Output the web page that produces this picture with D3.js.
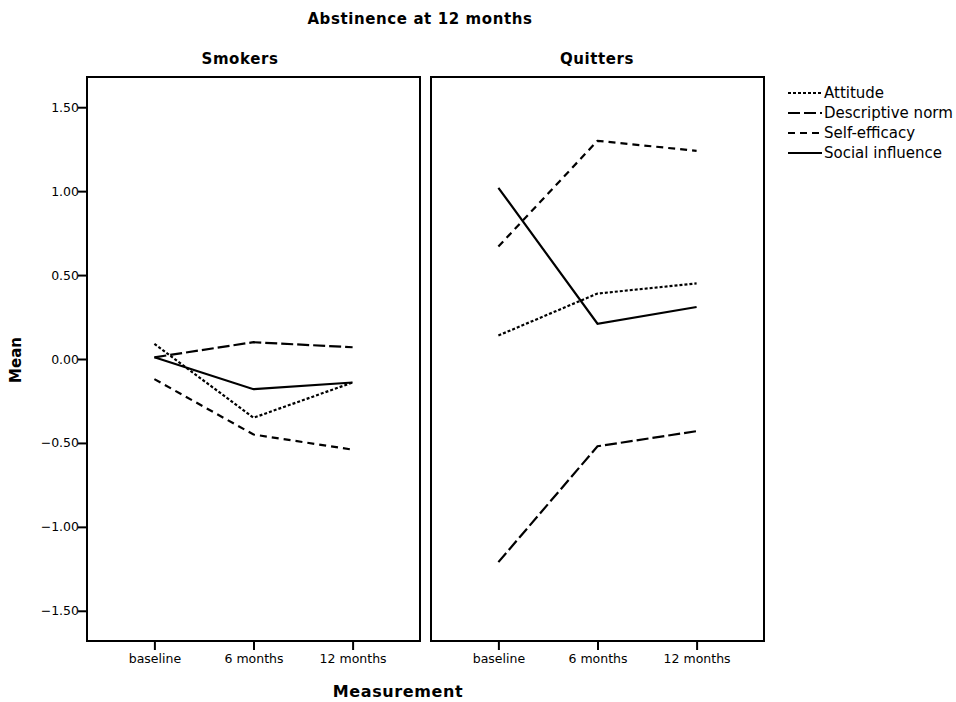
<!DOCTYPE html>
<html>
<head>
<meta charset="utf-8">
<script src="https://cdnjs.cloudflare.com/ajax/libs/d3/7.8.5/d3.min.js"></script>
<style>
  body { margin: 0; background: #fff; }
  text { font-family: "DejaVu Sans", sans-serif; fill: #000; }
</style>
</head>
<body>
<div id="chart"></div>
<script>
// data
var times = ["baseline", "6 months", "12 months"];
var groups = ["Smokers", "Quitters"];
var seriesNames = ["Attitude", "Descriptive norm", "Self-efficacy", "Social influence"];
var yTicks = [1.5, 1.0, 0.5, 0.0, -0.5, -1.0, -1.5];

var smokersAttitude = [0.09, -0.35, -0.14];
var smokersNorm = [0.01, 0.10, 0.07];
var smokersEfficacy = [-0.12, -0.45, -0.54];
var smokersInfluence = [0.01, -0.18, -0.14];

var quittersAttitude = [0.14, 0.39, 0.45];
var quittersNorm = [-1.21, -0.52, -0.43];
var quittersEfficacy = [0.67, 1.30, 1.24];
var quittersInfluence = [1.02, 0.21, 0.31];

var dashes = ["3,2", "12,4", "7,5", null];

var panels = [
    { name: groups[0], left: 87, right: 420, titleX: 240, series: [smokersAttitude, smokersNorm, smokersEfficacy, smokersInfluence] },
    { name: groups[1], left: 431, right: 764, titleX: 597, series: [quittersAttitude, quittersNorm, quittersEfficacy, quittersInfluence] }
];

var plotTop = 77, plotBottom = 641;

var svg = d3.select("#chart")
    .append("svg")
    .attr("width", 956)
    .attr("height", 702);

var y = d3.scaleLinear()
    .domain([-1.68, 1.68])
    .range([plotBottom, plotTop]);

// main title
svg.append("text")
    .attr("x", 420)
    .attr("y", 24)
    .attr("text-anchor", "middle")
    .style("font-size", "15px")
    .style("font-weight", "bold")
    .style("letter-spacing", "0.6px")
    .text("Abstinence at 12 months");

// y axis on left panel
var yAxis = svg.append("g")
    .attr("transform", "translate(" + panels[0].left + ",0)")
    .call(d3.axisLeft(y).tickValues(yTicks).tickFormat(d3.format(".2f")).tickSize(9).tickSizeOuter(0));
yAxis.select(".domain").remove();
yAxis.selectAll(".tick line").attr("stroke-width", 2);
yAxis.selectAll(".tick text").style("font-size", "12.5px").attr("x", -8);

svg.append("text")
    .attr("transform", "translate(21,360) rotate(-90)")
    .attr("text-anchor", "middle")
    .style("font-size", "15px")
    .style("font-weight", "bold")
    .text("Mean");

panels.forEach(function (p) {
    var x = d3.scalePoint()
        .domain(times)
        .range([p.left, p.right])
        .padding(0.68);

    // panel title
    svg.append("text")
        .attr("x", p.titleX)
        .attr("y", 64)
        .attr("text-anchor", "middle")
        .style("font-size", "15px")
        .style("font-weight", "bold")
        .style("letter-spacing", "0.6px")
        .text(p.name);

    var xAxis = svg.append("g")
        .attr("transform", "translate(0," + plotBottom + ")")
        .call(d3.axisBottom(x).tickSize(9).tickSizeOuter(0));
    xAxis.select(".domain").remove();
    xAxis.selectAll(".tick line").attr("stroke-width", 2);
    xAxis.selectAll(".tick text").style("font-size", "12.5px").attr("y", 13);

    var line = d3.line()
        .x(function (d, i) { return x(times[i]); })
        .y(function (d) { return y(d); });

    p.series.forEach(function (s, k) {
        svg.append("path")
            .datum(s)
            .attr("d", line)
            .attr("fill", "none")
            .attr("stroke", "#000")
            .attr("stroke-width", 2.2)
            .attr("stroke-dasharray", dashes[k]);
    });

    // frame
    svg.append("rect")
        .attr("x", p.left)
        .attr("y", plotTop)
        .attr("width", p.right - p.left)
        .attr("height", plotBottom - plotTop)
        .attr("fill", "none")
        .attr("stroke", "#000")
        .attr("stroke-width", 2);
});

svg.append("text")
    .attr("x", 398)
    .attr("y", 697)
    .attr("text-anchor", "middle")
    .style("font-size", "16px")
    .style("font-weight", "bold")
    .style("letter-spacing", "0.6px")
    .text("Measurement");

// legend
var legend = svg.append("g")
    .attr("transform", "translate(788,93)");
seriesNames.forEach(function (n, k) {
    var g = legend.append("g").attr("transform", "translate(0," + (k * 20) + ")");
    g.append("line")
        .attr("x1", 0).attr("x2", 34)
        .attr("stroke", "#000")
        .attr("stroke-width", 2.2)
        .attr("stroke-dasharray", dashes[k]);
    g.append("text")
        .attr("x", 36)
        .attr("y", 5)
        .style("font-size", "15px")
        .text(n);
});
</script>
</body>
</html>
